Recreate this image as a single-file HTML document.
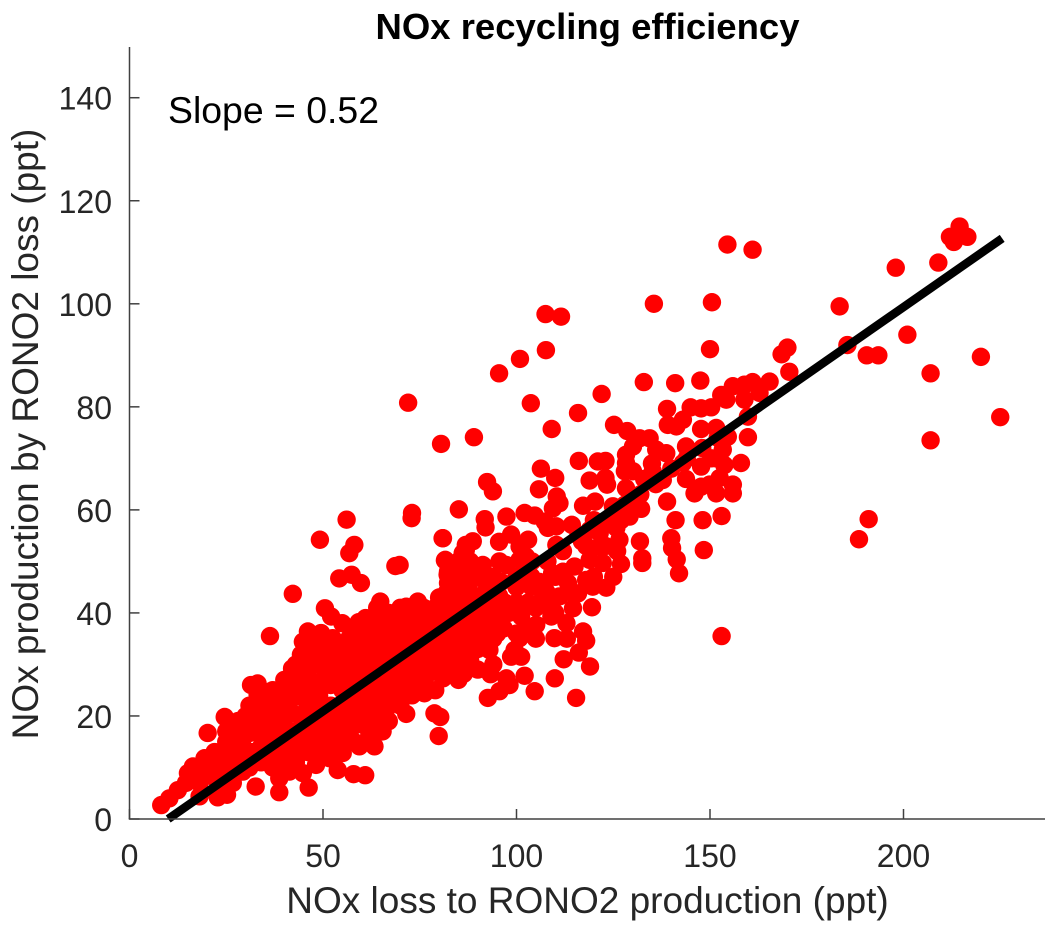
<!DOCTYPE html>
<html lang="en">
<head>
<meta charset="utf-8">
<title>NOx recycling efficiency</title>
<style>
html,body{margin:0;padding:0;background:#fff;width:1058px;height:933px;overflow:hidden}
svg{display:block;font-family:"Liberation Sans",Arial,sans-serif}
</style>
</head>
<body>
<svg id="chart" xmlns="http://www.w3.org/2000/svg" width="1058" height="933" viewBox="0 0 1058 933"></svg>
<script>
const xTickLabels = [0, 50, 100, 150, 200];
const yTickLabels = [0, 20, 40, 60, 80, 100, 120, 140];
const fitLine = [[10, 0], [225.5, 112.7]];
const samples = [
[154.5,111.5],[161,110.5],[212,113],[214.5,115],[216.5,113],[213,112],[198,107],[209,108],[183.5,99.5],[185.5,92],
[190.5,90],[193.5,90],[201,94],[220,89.7],[207,86.5],[225,78],[207,73.5],[191,58.2],[188.5,54.3],[153,35.5],
[135.5,100],[150.5,100.3],[150,91.2],[107.5,98],[111.5,97.5],[107.6,91],[100.9,89.3],[95.5,86.5],[103.7,80.7],[72,80.8],
[80.5,72.8],[89,74.1],[109.1,75.7],[115.9,78.8],[122,82.5],[132.9,84.8],[141,84.6],[147.5,85.1],[170,91.5],[168.5,90.2],[170.5,86.8],
[125.2,76.5],[128.6,75.3],[165.4,84.9],[161,84.8],[155.9,84],[158.9,84.3],[152.9,82.3],[154.2,81.4],[150.3,79.9],[145,79.9],
[147.7,79.7],[138.9,79.6],[158.9,81.4],[159.8,78.1],[159.8,74.1],[162.8,82.7],[139.1,76.5],[143,77.5],[141.3,76.2],[147.7,75.7],
[151.6,75.9],[154.6,74.2],[134.4,73.9],[131.8,73.9],[130.1,72.3],[128.3,70.7],[136.1,71.7],[138.7,71],[143.8,72.3],[143,69.1],
[128.3,69.1],[130.1,67.5],[128,67.5],[128.3,64.2],[135.2,67.5],[137.8,65.8],[143.8,66],[146,63.2],[147.7,68.4],[150.3,70],
[153.3,71.7],[151.6,70],[153.7,68.7],[158,69.1],[155.9,64.9],[155.9,63.2],[151.6,63.2],[149.9,64.9],[147.7,64.5],[152.5,66.2],
[116.1,69.5],[121,69.4],[123,69.5],[118.9,65.7],[123,66.2],[123.4,64.9],[106.3,68],[110,66.2],[105.8,64],[110.4,62.6],
[111.1,61.3],[109.4,60.3],[92.4,65.4],[93.9,63.6],[85.1,60.1],[73,59.4],[102.1,59.4],[104.7,58.9],[107.3,57.7],[108.1,56.5],
[110.3,56.8],[97.4,58.7],[91.8,58.2],[92,56.6],[117.2,60.8],[120.3,61.6],[124.9,60.7],[132.2,60.2],[129.2,58.7],[138.9,61.6],
[141.1,58],[148.1,58],[153,58.8],[148.4,52.2],[131.9,53.9],[132.5,50.6],[132.5,49.7],[140,54.5],[140.2,52.6],[141.4,50.4],
[142,47.7],[114.3,57.1],[118.9,56.1],[121.5,55.5],[125.8,56.5],[126.6,54.2],[121.5,52.9],[116.9,53.9],[110.3,53.2],[95.5,53.8],
[98.6,55.2],[103,54.2],[100.8,52.9],[88.7,53.9],[81,54.5],[86.9,52.2],[81.6,50.3],[86.6,49.7],[91.3,49.3],[95.6,50],
[97.4,49.3],[100.8,50.3],[102.5,50.9],[82.3,48],[84.9,47],[87.9,47],[82.3,45.8],[90.5,46.8],[118.9,50.3],[122.3,49.7],
[127,49.5],[109.2,47.7],[103.8,47.1],[113.3,45.8],[118,46.4],[123.2,44.9],[119.7,45.1],[115.9,43.8],[103.8,45.1],[107.7,44.1],
[111.1,43.2],[106.8,42.9],[95.5,43.3],[82.3,43.5],[74.5,42.2],[78.4,40.3],[73.2,40.6],[119.5,41.1],[114.6,40.9],[108.5,41.2],
[109,39.3],[112.9,38],[105.1,37.7],[101.2,39.3],[96.7,37],[93,39],[90.5,37],[117.2,36.4],[109.8,35.1],[118,34.6],
[100.8,35.1],[99.5,32.8],[101.2,31.5],[98.6,31.5],[93,32.8],[87,32.5],[84.4,32.8],[82.7,30.3],[116.1,32.3],[112.2,31],
[119,29.6],[86.4,28.2],[93.3,28.1],[97.4,27.3],[102.1,27.8],[98.2,26],[109.9,27.3],[104.7,24.8],[95.6,24.8],[92.6,23.5],
[115.4,23.5],[81,27.3],[76.3,24.8],[69.8,49.3],[71,23.8],[79.3,30.3],[75,30.3],[72.4,33.5],[72.4,29],[71.5,26.4],
[77.5,32.8],[81,35.4],[85.3,36.7],[71.5,38],[56.1,58.1],[72.9,58.4],[49.2,54.2],[80.9,54.5],[58.1,53.2],[56.8,51.6],
[68.7,49.1],[54.2,46.7],[57.4,47.4],[59.8,45.8],[42.2,43.7],[81.5,50.2],[82.2,47.4],[82.7,45.1],[86.1,51.6],[86.9,53.2],
[85.2,49],[87,48.4],[64.8,42.2],[74.5,42.1],[71.5,41.2],[78.4,40.3],[82.2,42.5],[85.2,45.1],[50.5,40.9],[52.1,39.3],
[59.2,38.2],[64.6,38.6],[68.9,40],[74.9,37.4],[36.3,35.5],[46.1,36.4],[49.5,36.1],[44.8,34.4],[52.5,35.1],[56.8,35.1],
[52.5,32.8],[44.3,31.9],[48.2,31.5],[57.7,32.2],[63.7,36.1],[68.9,36.1],[63.7,33.2],[70.6,32.8],[79.2,35.4],[83.5,37.4],
[84.4,34.8],[42,29.2],[45.6,29],[50,29.6],[55.1,29.6],[57.7,28.9],[62,29.6],[68.9,30.2],[74.9,32.2],[80.1,30.9],
[85.2,30.2],[86.1,28.2],[81.4,27.7],[76.6,27.7],[71.5,25.7],[31.4,26],[33.1,26.3],[33.1,24.1],[36.2,24.7],[41.3,25.7],
[44.8,27.7],[43.1,23.8],[48.2,25.7],[53.4,26.4],[59.4,27],[64.6,25.7],[68,23.8],[73.2,25.1],[76.2,24.4],[49.1,21.8],
[56,23.8],[61.1,22.5],[35.7,20.2],[38.7,19.9],[33.1,19.9],[42.2,20.5],[24.6,19.8],[28,18.3],[20.2,16.7],[25.8,16.7],
[31,16.7],[36.2,17.3],[41.3,16.7],[46.5,18.6],[52.5,19.9],[57.7,20.5],[62.9,20.9],[66.3,21.2],[71.5,20.4],[78.8,20.5],
[80.3,19.8],[79.9,16.1],[65.4,17],[62.9,17.9],[57.7,17.9],[53.4,16.7],[56.8,16.7],[59.4,14.1],[63.3,14.1],[55.1,12.8],
[51.7,11.8],[53.8,9.5],[48.2,10.5],[49.1,14.1],[43.1,14.7],[47.4,16],[35.3,12.8],[37.9,11.5],[41.3,9.2],[44.8,8.9],
[38.7,7.9],[57.9,8.7],[60.9,8.5],[46.3,6.1],[38.7,5.2],[32.6,6.3],[25.2,4.7],[22.8,4.2],[18.1,4.4],[29.3,9.2],
[26.7,7],[23.3,7],[19.4,11.8],[21.5,12.1],[25,12.8],[29.3,14.1],[34.4,15.4],[15.1,8.9],[16.4,10.2],[12.5,5.6],
[10.3,4],[8.2,2.7],[18.1,7],[14.6,7],[20,9],[24,10],[28,11],[32,13],[36,15],[40,18],
[44,20],[48,23],[52,22],[56,28],[60,25],[64,28],[68,32],[72,35],[76,36],[80,38],
[84,40],[88,42],[92,44],[96,46],[100,45],[104,50],[108,50],[112,52],[116,55],[120,58],
[124,58],[128,61],[132,63],[136,65],[140,68],[144,70],[148,72],[152,74],[65,31],[70,28],
[75,33],[80,33],[85,35],[90,33],[95,40],[100,42],[40,22],[45,25],[50,27],[55,31],
[60,33],[65,35],[70,38],[75,40],[80,43],[85,43],[90,40],[95,36],[30,20],[35,23],
[40,27],[45,31],[50,33],[55,38],[60,35],[25,14],[30,17],[35,18],[40,14],[45,17],
[50,19],[55,20],[60,22],[65,23],[70,23],[75,26],
[22,8],[22,11],[22,13],[25,9],[25,15],[25,17],[28,10],[28,13],[28,16],[28,19],
[31,10],[31,13],[31,19],[31,22],[34,11],[34,14],[34,17],[34,20],[34,23],[37,10],
[37,13],[37,16],[37,19],[37,22],[37,25],[40,12],[40,15],[40,21],[40,24],[43,11],
[43,14],[43,17],[43,26],[43,30],[46,13],[46,16],[46,22],[46,28],[46,33],[49,12],
[49,15],[49,18],[49,21],[49,24],[49,30],[49,34],[52,14],[52,17],[52,20],[52,26],
[52,29],[52,32],[55,13],[55,16],[55,19],[55,22],[55,25],[55,28],[55,34],[58,15],
[58,19],[58,22],[58,25],[58,28],[58,31],[58,34],[58,37],[61,15],[61,18],[61,21],
[61,24],[61,27],[61,30],[61,33],[61,36],[61,39],[64,17],[64,20],[64,26],[64,32],
[64,35],[64,38],[64,41],[67,19],[67,22],[67,25],[67,28],[67,31],[67,34],[67,37],
[67,40],[70,22],[70,27],[70,30],[70,33],[70,36],[70,39],[70,41],[73,24],[73,27],
[73,30],[73,36],[73,39],[73,41],[76,26],[76,29],[76,32],[76,35],[76,38],[76,41],
[79,25],[79,29],[79,32],[79,35],[79,38],[79,41],[82,28],[82,31],[82,34],[82,37],
[82,40],[82,44],[85,30],[85,33],[85,39],[85,42],[85,45],[85,50],[88,31],[88,35],
[88,38],[88,41],[88,44],[88,47],[88,50],[91,34],[91,37],[91,40],[91,43],[91,48],
[94,35],[94,38],[94,41],[94,44],[94,47],
[97,42],[100,47],[103,42],[106,46],[110,47],[112,48],[115,49],[118,53],[123,53],[127,58],
[130,62],[133,66],[135,69],[126,52],[120,47],[125,47],[114,44],[110,40],[105,35],[103,37],
[98,40],[100,36],[105,41],[113,35],[90,29],[94,30],[85,27]
];

const svg = document.getElementById('chart');
const NS = 'http://www.w3.org/2000/svg';
const plotLeft = 129.5, plotBottom = 819, plotTop = 47, plotRight = 1045;
const xScale = v => 129.5 + v * 3.87;
const yScale = v => 819 - v * 5.152;
const make = (tag, props) => {
  const el = document.createElementNS(NS, tag);
  for (const k in props) el.setAttribute(k, props[k]);
  return el;
};

samples.forEach(p => {
  const dot = make('circle', {cx: xScale(p[0]), cy: yScale(p[1]), r: 9.2, fill: '#ff0000'});
  
  
  svg.appendChild(dot);
});

const fit = make('line', {x1: xScale(fitLine[0][0]), y1: yScale(fitLine[0][1]), x2: xScale(fitLine[1][0]), y2: yScale(fitLine[1][1]), stroke: '#000', 'stroke-width': 8.5});


svg.appendChild(fit);

const xAxis = make('line', {x1: plotLeft - 0.75, y1: plotBottom, x2: plotRight, y2: plotBottom, stroke: '#404040', 'stroke-width': 1.5});


svg.appendChild(xAxis);

const yAxis = make('line', {x1: plotLeft, y1: plotBottom, x2: plotLeft, y2: plotTop, stroke: '#404040', 'stroke-width': 1.5});


svg.appendChild(yAxis);

xTickLabels.forEach(v => {
  const tick = make('line', {x1: xScale(v), y1: plotBottom, x2: xScale(v), y2: plotBottom - 10, stroke: '#404040', 'stroke-width': 1.5});
  
  
  svg.appendChild(tick);
  const label = make('text', {x: xScale(v), y: 867, 'text-anchor': 'middle', 'font-size': 32, fill: '#262626'});
  
  
  label.textContent = v;
  svg.appendChild(label);
});

yTickLabels.forEach(v => {
  const tick = make('line', {x1: plotLeft, y1: yScale(v), x2: plotLeft + 10, y2: yScale(v), stroke: '#404040', 'stroke-width': 1.5});
  
  
  svg.appendChild(tick);
  const label = make('text', {x: 112, y: yScale(v) + 12, 'text-anchor': 'end', 'font-size': 32, fill: '#262626'});
  
  
  label.textContent = v;
  svg.appendChild(label);
});

const title = make('text', {x: 587.5, y: 39, 'text-anchor': 'middle', 'font-size': 36.5, 'font-weight': 'bold', fill: '#000'});


title.textContent = 'NOx recycling efficiency';
svg.appendChild(title);

const xTitle = make('text', {x: 587.5, y: 913, 'text-anchor': 'middle', 'font-size': 37, fill: '#262626'});


xTitle.textContent = 'NOx loss to RONO2 production (ppt)';
svg.appendChild(xTitle);

const yTitle = make('text', {x: 0, y: 0, 'text-anchor': 'middle', 'font-size': 37, fill: '#262626', transform: 'translate(38 434) rotate(-90)'});


yTitle.textContent = 'NOx production by RONO2 loss (ppt)';
svg.appendChild(yTitle);

const note = make('text', {x: 168, y: 123, 'font-size': 37.4, fill: '#000'});


note.textContent = 'Slope = 0.52';
svg.appendChild(note);
</script>
</body>
</html>
